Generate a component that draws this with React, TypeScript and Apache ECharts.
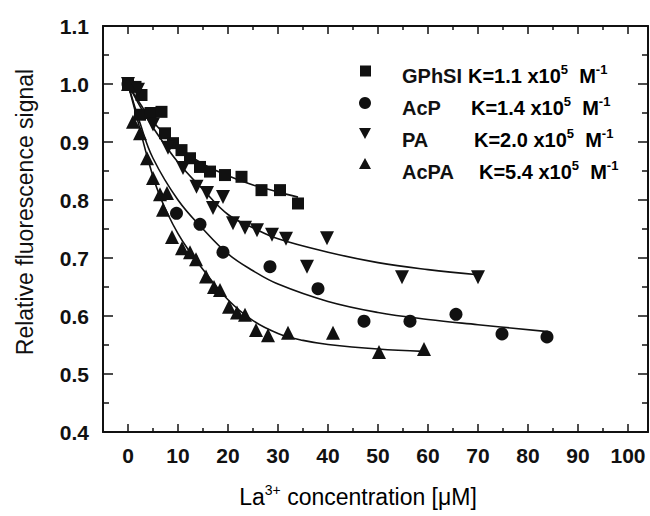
import React, { useEffect, useRef } from "react";
import * as echarts from "echarts";

// ---- data ----
const gphsiX = [0, 1.5, 2.7, 2.4, 4.5, 6.7, 7.4, 9, 10.7, 12.4, 14.4, 16.4, 19.4, 22.7, 26.7, 30.4, 34];
const gphsiY = [1.0, 0.995, 0.981, 0.947, 0.95, 0.952, 0.915, 0.898, 0.886, 0.872, 0.857, 0.849, 0.843, 0.84, 0.817, 0.817, 0.794];

const acpX = [0, 9.7, 14.4, 19, 28.4, 38, 47.2, 56.4, 65.6, 74.8, 83.8];
const acpY = [1.0, 0.777, 0.758, 0.71, 0.685, 0.647, 0.591, 0.591, 0.603, 0.569, 0.564];

const paX = [0, 2, 5, 8, 11, 13.7, 15.8, 19, 17, 21, 23.4, 25.8, 28.8, 31.6, 35.8, 39.8, 54.8, 70];
const paY = [1.0, 0.99, 0.93, 0.89, 0.855, 0.823, 0.812, 0.805, 0.786, 0.76, 0.752, 0.748, 0.74, 0.733, 0.685, 0.734, 0.667, 0.667];

const acpaX = [0, 1, 2.4, 3.8, 5, 6.4, 7.8, 7, 8.8, 10.8, 12.4, 13.6, 15.6, 17.2, 18.4, 20.2, 21.8, 23.4, 25.6, 28, 32, 41, 50.2, 59.2];
const acpaY = [1.0, 0.935, 0.915, 0.872, 0.838, 0.81, 0.812, 0.783, 0.736, 0.717, 0.71, 0.698, 0.668, 0.65, 0.645, 0.616, 0.606, 0.602, 0.576, 0.567, 0.571, 0.571, 0.538, 0.543];

// fitted curves
const gphsiFitX = [0, 2.5, 5, 10, 15, 20, 25, 30, 34];
const gphsiFitY = [1.0, 0.965, 0.935, 0.892, 0.862, 0.842, 0.826, 0.814, 0.805];
const acpFitX = [0, 2.5, 5, 10, 15, 20, 25, 30, 40, 50, 60, 70, 84];
const acpFitY = [1.0, 0.93, 0.872, 0.8, 0.75, 0.707, 0.678, 0.655, 0.625, 0.606, 0.594, 0.585, 0.573];
const paFitX = [0, 2.5, 5, 10, 15, 20, 25, 30, 40, 50, 60, 70];
const paFitY = [1.0, 0.96, 0.925, 0.865, 0.818, 0.775, 0.752, 0.733, 0.71, 0.692, 0.68, 0.671];
const acpaFitX = [0, 2, 4, 6, 8, 10, 12, 15, 20, 25, 30, 35, 40, 50, 59];
const acpaFitY = [1.0, 0.935, 0.87, 0.815, 0.775, 0.742, 0.715, 0.68, 0.628, 0.592, 0.57, 0.558, 0.551, 0.543, 0.539];

const legendNames = ["GPhSI", "AcP", "PA", "AcPA"];
const legendK = ["1.1", "1.4", "2.0", "5.4"];

const xMajor = [0, 10, 20, 30, 40, 50, 60, 70, 80, 90, 100];
const xMinor = [-5, 5, 15, 25, 35, 45, 55, 65, 75, 85, 95];
const yMajor = [0.4, 0.5, 0.6, 0.7, 0.8, 0.9, 1.0, 1.1];
const yMinor = [0.45, 0.55, 0.65, 0.75, 0.85, 0.95, 1.05];

const FONT = "'Liberation Sans', Arial, sans-serif";
const INK = "#111";

const pairs = (xs: number[], ys: number[]) => xs.map((x, i) => [x, ys[i]]);

export default function App() {
  const ref = useRef<HTMLDivElement>(null);
  useEffect(() => {
    if (!ref.current) return;
    const chart = echarts.init(ref.current, undefined, { renderer: "svg" });

    const X_MIN = -5, X_MAX = 104, Y_MIN = 0.4, Y_MAX = 1.1;
    const mkX = (pos: string, vals: number[], len: number, labels: boolean, line: boolean) => ({
      type: "value", min: X_MIN, max: X_MAX, position: pos,
      axisLine: { show: line, onZero: false, lineStyle: { color: INK, width: 2 } },
      axisTick: { show: true, inside: true, length: len, customValues: vals, lineStyle: { color: INK, width: 1.5 } },
      axisLabel: labels
        ? { show: true, customValues: vals, margin: 13, color: INK, fontFamily: FONT, fontSize: 21, fontWeight: "bold" }
        : { show: false },
      splitLine: { show: false },
    });
    const mkY = (pos: string, vals: number[], len: number, labels: boolean, line: boolean) => ({
      type: "value", min: Y_MIN, max: Y_MAX, position: pos,
      axisLine: { show: line, onZero: false, lineStyle: { color: INK, width: 2 } },
      axisTick: { show: true, inside: true, length: len, customValues: vals, lineStyle: { color: INK, width: 1.5 } },
      axisLabel: labels
        ? { show: true, customValues: vals, margin: 14, color: INK, fontFamily: FONT, fontSize: 21, fontWeight: "bold",
            formatter: (v: number) => v.toFixed(1) }
        : { show: false },
      splitLine: { show: false },
    });

    const symbols = [
      { name: "GPhSI", symbol: "rect", size: 12, rotate: 0, data: pairs(gphsiX, gphsiY), fit: pairs(gphsiFitX, gphsiFitY) },
      { name: "AcP", symbol: "circle", size: 13, rotate: 0, data: pairs(acpX, acpY), fit: pairs(acpFitX, acpFitY) },
      { name: "PA", symbol: "triangle", size: 14, rotate: 180, data: pairs(paX, paY), fit: pairs(paFitX, paFitY) },
      { name: "AcPA", symbol: "triangle", size: 14, rotate: 0, data: pairs(acpaX, acpaY), fit: pairs(acpaFitX, acpaFitY) },
    ];

    const series: any[] = [];
    symbols.forEach((s) => {
      series.push({
        type: "line", name: s.name + " fit", data: s.fit, smooth: 0.4, showSymbol: false, symbol: "none",
        lineStyle: { color: INK, width: 1.6 }, z: 2, silent: true,
      });
    });
    symbols.forEach((s) => {
      series.push({
        type: "scatter", name: s.name, data: s.data, symbol: s.symbol, symbolSize: s.size, symbolRotate: s.rotate,
        itemStyle: { color: INK, opacity: 1 }, z: 3,
      });
    });

    const richMain = { fontFamily: FONT, fontSize: 20, fontWeight: "bold", lineHeight: 26, color: INK };
    const richSup = { fontFamily: FONT, fontSize: 13, fontWeight: "bold", lineHeight: 14, color: INK, verticalAlign: "top" };

    const legendRowsY = [76, 108, 140, 172];
    const symbolRowsY = [71, 103, 133, 163];
    const kX = [468, 471, 474, 479];
    const graphics: any[] = [];
    // legend symbols
    graphics.push({ type: "rect", shape: { x: 360, y: symbolRowsY[0] - 5.5, width: 11, height: 11 }, style: { fill: INK } });
    graphics.push({ type: "circle", shape: { cx: 365, cy: symbolRowsY[1], r: 6 }, style: { fill: INK } });
    graphics.push({ type: "polygon", shape: { points: [[359, symbolRowsY[2] - 5], [371, symbolRowsY[2] - 5], [365, symbolRowsY[2] + 6]] }, style: { fill: INK } });
    graphics.push({ type: "polygon", shape: { points: [[359, symbolRowsY[3] + 6], [371, symbolRowsY[3] + 6], [365, symbolRowsY[3] - 5]] }, style: { fill: INK } });
    legendNames.forEach((n, i) => {
      graphics.push({
        type: "text", x: 402, y: legendRowsY[i],
        style: { text: n, font: `bold 20px ${FONT}`, fill: INK, align: "left", verticalAlign: "middle" },
      });
      graphics.push({
        type: "text", x: kX[i], y: legendRowsY[i],
        style: {
          text: `{m|K=${legendK[i]} x10}{s|5}{m|  M}{s|-1}`,
          align: "left", verticalAlign: "middle",
          rich: { m: richMain, s: richSup },
        },
      });
    });
    // axis titles
    graphics.push({
      type: "text", x: 358, y: 497,
      style: {
        text: "{m|La}{s|3+}{m| concentration [μM]}",
        align: "center", verticalAlign: "middle",
        rich: {
          m: { fontFamily: FONT, fontSize: 23, lineHeight: 28, color: INK },
          s: { fontFamily: FONT, fontSize: 14, lineHeight: 15, color: INK, verticalAlign: "top" },
        },
      },
    });
    graphics.push({
      type: "text", x: 25, y: 212, rotation: Math.PI / 2,
      style: { text: "Relative fluorescence signal", font: `23px ${FONT}`, fill: INK, align: "center", verticalAlign: "middle" },
    });

    chart.setOption({
      animation: false,
      backgroundColor: "#fff",
      grid: { left: 103, right: 2, top: 26, bottom: 84, containLabel: false },
      xAxis: [
        mkX("bottom", xMajor, 8, true, true),
        mkX("bottom", xMinor, 4, false, false),
        mkX("top", xMajor, 8, false, true),
        mkX("top", xMinor, 4, false, false),
      ],
      yAxis: [
        mkY("left", yMajor, 10, true, true),
        mkY("left", yMinor, 6, false, false),
        mkY("right", yMajor, 10, false, true),
        mkY("right", yMinor, 6, false, false),
      ],
      series,
      graphic: graphics,
    });
    return () => chart.dispose();
  }, []);
  return <div ref={ref} style={{ position: "fixed", left: 0, top: 0, width: 650, height: 516, background: "#fff" }} />;
}
